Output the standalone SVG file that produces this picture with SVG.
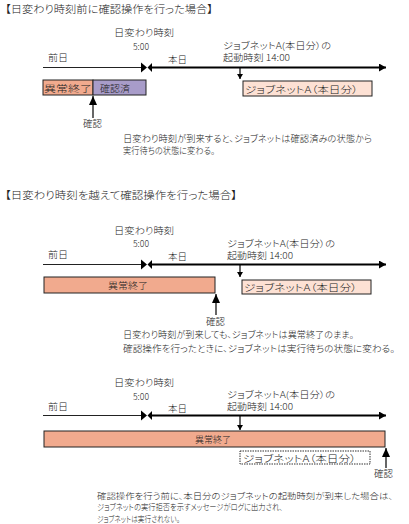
<svg xmlns="http://www.w3.org/2000/svg" width="409" height="524" viewBox="0 0 409 524">
<defs>
<style>
text{font-family:"Noto Sans CJK JP","Noto Sans",sans-serif;font-size:9.5px;font-weight:300;fill:#222;font-feature-settings:"palt";}
.t{font-size:10.5px;}
.b{font-size:9px;}
.s{font-size:9px;}
.n{font-size:8.5px;}
.thin{stroke:#222;stroke-width:1;fill:none;}
.thick{stroke:#000;stroke-width:2;fill:none;}
.arr{stroke:#000;stroke-width:1.2;fill:none;}
.err{fill:#f1aa8e;stroke:#222;stroke-width:1;}
.ok{fill:#a89cc9;stroke:#222;stroke-width:1;}
.job{fill:#fde1d4;stroke:#222;stroke-width:1;}
.jobd{fill:#fff;stroke:#333;stroke-width:1;stroke-dasharray:1.5 1;}
.hd{fill:#000;}
</style>
<marker id="ah" markerWidth="8" markerHeight="8" refX="7" refY="4" orient="auto" markerUnits="userSpaceOnUse"><path d="M0,0 L7,4 L0,8 Z" fill="#000"/></marker>
<marker id="ahs" markerWidth="6" markerHeight="6" refX="5" refY="3" orient="auto" markerUnits="userSpaceOnUse"><path d="M0,0 L5,3 L0,6 Z" fill="#000"/></marker>
<marker id="ahu" markerWidth="10" markerHeight="8" refX="9" refY="4" orient="auto" markerUnits="userSpaceOnUse"><path d="M0,0 L9,4 L0,8 Z" fill="#000"/></marker>
</defs>

<!-- Section 1 -->
<g id="title1"><text class="t" x="5" y="13" textLength="208" lengthAdjust="spacingAndGlyphs">【日変わり時刻前に確認操作を行った場合】</text></g>
<g id="s1-labels">
<text x="114" y="36" textLength="60" lengthAdjust="spacingAndGlyphs">日変わり時刻</text>
<text x="133" y="49.5" textLength="16" lengthAdjust="spacingAndGlyphs">5:00</text>
<text x="48" y="61" textLength="20" lengthAdjust="spacingAndGlyphs">前日</text>
<text x="168" y="63" textLength="19" lengthAdjust="spacingAndGlyphs">本日</text>
<text class="s" x="223" y="48.5" textLength="108" lengthAdjust="spacingAndGlyphs">ジョブネットA(本日分）の</text>
<text class="s" x="223" y="60.5" textLength="67" lengthAdjust="spacingAndGlyphs">起動時刻 14:00</text>
</g>
<g id="s1-err"><rect class="err" x="43" y="80" width="50" height="15"/><text x="44" y="91.5" textLength="48" lengthAdjust="spacingAndGlyphs">異常終了</text></g>
<g id="s1-ok"><rect class="ok" x="93" y="80" width="53" height="15"/><text x="100" y="91.5" textLength="30" lengthAdjust="spacingAndGlyphs">確認済</text></g>
<g id="s1-job"><rect class="job" x="243" y="81" width="129" height="15"/><text x="245" y="92.5" textLength="113" lengthAdjust="spacingAndGlyphs">ジョブネットA（本日分）</text></g>
<g id="s1-confirm"><text x="83" y="127" textLength="19" lengthAdjust="spacingAndGlyphs">確認</text></g>
<g id="s1-note">
<text class="b" x="123" y="142" textLength="249" lengthAdjust="spacingAndGlyphs">日変わり時刻が到来すると、ジョブネットは確認済みの状態から</text>
<text class="b" x="123" y="154" textLength="92" lengthAdjust="spacingAndGlyphs">実行待ちの状態に変わる。</text>
</g>

<!-- Section 2 -->
<g id="title2"><text class="t" x="5" y="199" textLength="232" lengthAdjust="spacingAndGlyphs">【日変わり時刻を越えて確認操作を行った場合】</text></g>
<g id="s2-labels">
<text x="114" y="234" textLength="60" lengthAdjust="spacingAndGlyphs">日変わり時刻</text>
<text x="133" y="247" textLength="16" lengthAdjust="spacingAndGlyphs">5:00</text>
<text x="48" y="258" textLength="20" lengthAdjust="spacingAndGlyphs">前日</text>
<text x="168" y="260" textLength="19" lengthAdjust="spacingAndGlyphs">本日</text>
<text class="s" x="227" y="246.5" textLength="108" lengthAdjust="spacingAndGlyphs">ジョブネットA(本日分）の</text>
<text class="s" x="227" y="258.5" textLength="66" lengthAdjust="spacingAndGlyphs">起動時刻 14:00</text>
</g>
<g id="s2-err"><rect class="err" x="44" y="277" width="171" height="16"/><text x="108" y="289" textLength="40" lengthAdjust="spacingAndGlyphs">異常終了</text></g>
<g id="s2-job"><rect class="job" x="242" y="280" width="129" height="14"/><text x="244" y="291" textLength="113" lengthAdjust="spacingAndGlyphs">ジョブネットA（本日分）</text></g>
<g id="s2-confirm"><text x="206" y="325" textLength="19" lengthAdjust="spacingAndGlyphs">確認</text></g>
<g id="s2-note">
<text class="b" x="123" y="338" textLength="231" lengthAdjust="spacingAndGlyphs">日変わり時刻が到来しても、ジョブネットは異常終了のまま。</text>
<text class="b" x="123" y="352" textLength="272" lengthAdjust="spacingAndGlyphs">確認操作を行ったときに、ジョブネットは実行待ちの状態に変わる。</text>
</g>

<!-- Section 3 -->
<g id="s3-labels">
<text x="114" y="386" textLength="60" lengthAdjust="spacingAndGlyphs">日変わり時刻</text>
<text x="133" y="400" textLength="16" lengthAdjust="spacingAndGlyphs">5:00</text>
<text x="48" y="410" textLength="20" lengthAdjust="spacingAndGlyphs">前日</text>
<text x="168" y="412" textLength="19" lengthAdjust="spacingAndGlyphs">本日</text>
<text class="s" x="227" y="397.5" textLength="108" lengthAdjust="spacingAndGlyphs">ジョブネットA(本日分）の</text>
<text class="s" x="227" y="409.5" textLength="66" lengthAdjust="spacingAndGlyphs">起動時刻 14:00</text>
</g>
<g id="s3-err"><rect class="err" x="44" y="431" width="341" height="16"/><text x="195" y="443" textLength="36" lengthAdjust="spacingAndGlyphs">異常終了</text></g>
<g id="s3-job"><rect class="jobd" x="240" y="451" width="130" height="13"/><text x="243" y="461.5" textLength="113" lengthAdjust="spacingAndGlyphs">ジョブネットA（本日分）</text></g>
<g id="s3-confirm"><text x="374" y="477" textLength="19" lengthAdjust="spacingAndGlyphs">確認</text></g>
<g id="s3-note">
<text class="n" x="97" y="498.5" textLength="296" lengthAdjust="spacingAndGlyphs">確認操作を行う前に、本日分のジョブネットの起動時刻が到来した場合は、</text>
<text class="n" x="97" y="510" textLength="186" lengthAdjust="spacingAndGlyphs">ジョブネットの実行拒否を示すメッセージがログに出力され、</text>
<text class="n" x="97" y="521.5" textLength="83" lengthAdjust="spacingAndGlyphs">ジョブネットは実行されない。</text>
</g>

<!-- Connectors -->
<g id="connectors">
<line class="thin" x1="43" y1="67.5" x2="141" y2="67.5"/>
<path class="hd" d="M141,62.5 L147,67.5 L141,72.5 Z"/>
<path class="hd" d="M152,63 L147.5,67.5 L152,72 Z"/>
<line class="thick" x1="150" y1="67.5" x2="386" y2="67.5" marker-end="url(#ah)"/>
<line class="arr" x1="240" y1="68" x2="240" y2="79" marker-end="url(#ahs)"/>
<line class="arr" x1="93" y1="118" x2="93" y2="96" stroke-width="1.5" marker-end="url(#ahu)"/>

<line class="thin" x1="43" y1="264.5" x2="141" y2="264.5"/>
<path class="hd" d="M141,259.5 L147,264.5 L141,269.5 Z"/>
<path class="hd" d="M152,260 L147.5,264.5 L152,269 Z"/>
<line class="thick" x1="150" y1="264.5" x2="386" y2="264.5" marker-end="url(#ah)"/>
<line class="arr" x1="240" y1="265" x2="240" y2="277" marker-end="url(#ahs)"/>
<line class="arr" x1="216" y1="315" x2="216" y2="294" stroke-width="1.5" marker-end="url(#ahu)"/>

<line class="thin" x1="43" y1="415.5" x2="141" y2="415.5"/>
<path class="hd" d="M141,410.5 L147,415.5 L141,420.5 Z"/>
<path class="hd" d="M152,411 L147.5,415.5 L152,420 Z"/>
<line class="thick" x1="150" y1="415.5" x2="386" y2="415.5" marker-end="url(#ah)"/>
<line class="arr" x1="240" y1="416" x2="240" y2="430" marker-end="url(#ahs)"/>
<line class="arr" x1="386" y1="468" x2="386" y2="448" stroke-width="1.5" marker-end="url(#ahu)"/>
</g>
</svg>
